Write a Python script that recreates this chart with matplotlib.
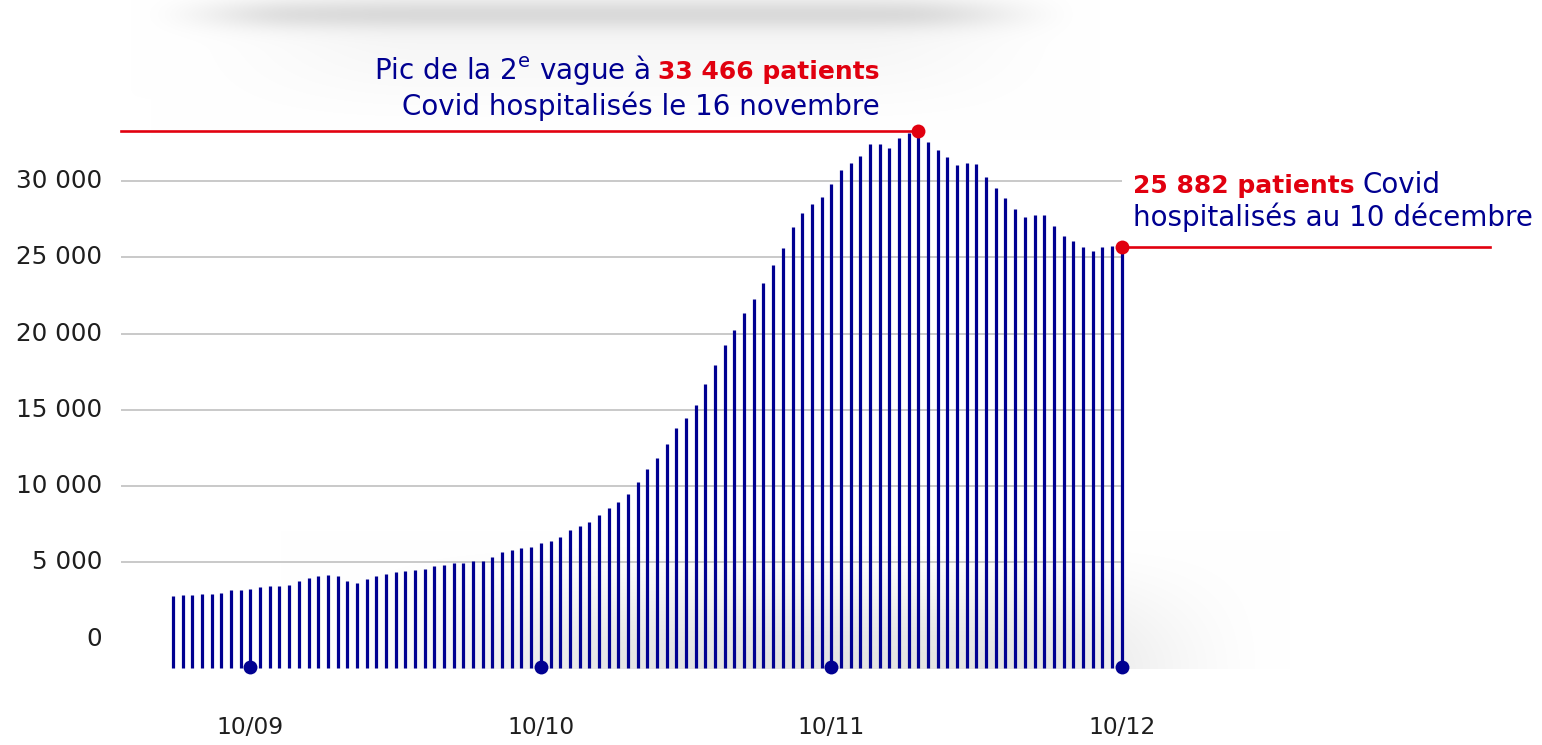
import numpy as np
import matplotlib
matplotlib.use("Agg")
import matplotlib.pyplot as plt

# ---------------- data ----------------
hospitalised = [
    2815, 2858, 2858, 2924, 2924, 2968, 3165, 3186, 3252, 3361,
    3427, 3470, 3536, 3776, 3951, 4126, 4170, 4126, 3798, 3645,
    3907, 4104, 4235, 4345, 4432, 4497, 4563, 4760, 4847, 4935,
    4978, 5109, 5109, 5350, 5656, 5787, 5918, 6027, 6268, 6399,
    6661, 7142, 7382, 7666, 8103, 8562, 8955, 9458, 10288, 11119,
    11862, 12780, 13785, 14440, 15300, 16686, 17935, 19249, 20256, 21314,
    22234, 23285, 24468, 25635, 26993, 27920, 28480, 28927, 29825, 30746,
    31163, 31625, 32415, 32415, 32193, 32810, 33170, 33300, 32546, 32040,
    31580, 31053, 31205, 31119, 30241, 29539, 28860, 28138, 27631, 27784,
    27740, 27082, 26401, 26098, 25677, 25414, 25657, 25723, 25650,
]
tick_positions = [8, 38, 68, 98]
tick_labels = ["10/09", "10/10", "10/11", "10/12"]
y_ticks = [0, 5000, 10000, 15000, 20000, 25000, 30000]
peak_label = "33 466 patients"
last_label = "25 882 patients"

BLUE = "#000091"
RED = "#E1000F"
GRID = "#c9c9c9"
TXT = "#1e1e1e"

plt.rcParams['font.family'] = ['DejaVu Sans']
plt.rcParams['mathtext.fontset'] = 'dejavusans'

W, H = 1542, 745
fig = plt.figure(figsize=(W / 100, H / 100), dpi=100)

# soft grey background shading
bg = fig.add_axes([0, 0, 1, 1], zorder=-5)
yy, xx = np.mgrid[0:H, 0:W].astype(float)


def smooth(e0, e1, v):
    t = np.clip((v - e0) / (e1 - e0), 0, 1)
    return t * t * (3 - 2 * t)


top = 0.11 * smooth(130, 300, xx) * (1 - smooth(900, 1090, xx)) * np.exp(-((yy - 14) / 15) ** 2)
top += 0.035 * smooth(150, 420, xx) * (1 - smooth(850, 1100, xx)) * (1 - smooth(25, 140, yy))
bot = 0.11 * smooth(280, 700, xx) * (1 - smooth(980, 1290, xx)) * smooth(530, 668, yy) * (yy <= 668)
img = 1 - np.clip(top + bot, 0, 0.2)
bg.imshow(np.dstack([img, img, img]), extent=(0, W, H, 0), aspect='auto', interpolation='bilinear')
bg.axis('off')

# main axes spanning the whole figure
ax = fig.add_axes([0, 0, 1, 1])
ax.patch.set_alpha(0)
x0_px, dx_px = 173.0, 9.68
y0_px, k_val = 638.6, 65.56


def px_x(p):
    return (p - x0_px) / dx_px


def px_y(p):
    return (y0_px - p) * k_val


ax.set_xlim(px_x(0), px_x(W))
ax.set_ylim(px_y(H), px_y(0))
ax.axis('off')

x = np.arange(len(hospitalised))
vals = np.array(hospitalised)
base = px_y(668)

# grid lines
grid_start = px_x(121)
ax.hlines([v for v in y_ticks if v > 0], grid_start, x[-1], color=GRID, lw=1.4, zorder=1)

# stems
ax.vlines(x, base, vals, color=BLUE, lw=2.3, zorder=3)

# bottom date dots
ax.plot(tick_positions, [px_y(667)] * len(tick_positions), 'o', color=BLUE, ms=10, zorder=4, mec='none')

# y tick labels
for v in y_ticks:
    ax.text(px_x(102), v, f"{v:,}".replace(",", " "), ha='right', va='center',
            fontsize=17.7, color=TXT)

# x tick labels
for p, lab in zip(tick_positions, tick_labels):
    ax.text(p, px_y(727), lab, ha='center', va='center', fontsize=16.8, color=TXT)

FS = 20
FSB = 18

# peak annotation
ipk = int(np.argmax(vals))
ax.plot([grid_start, x[ipk]], [vals[ipk], vals[ipk]], color=RED, lw=1.9, zorder=5)
ax.plot(x[ipk], vals[ipk], 'o', color=RED, ms=10, mec='none', zorder=6)

t1 = ax.text(px_x(880), px_y(79), peak_label, ha='right', va='baseline',
             color=RED, fontsize=FSB, fontweight='bold')
ax.annotate(r"Pic de la 2$^{\mathrm{e}}$ vague à", xy=(0, px_y(79)), xycoords=(t1, 'data'),
            xytext=(-6, 0), textcoords='offset points', ha='right', va='baseline',
            color=BLUE, fontsize=FS)
ax.text(px_x(880), px_y(115), "Covid hospitalisés le 16 novembre", ha='right',
        va='baseline', color=BLUE, fontsize=FS)

# last value annotation
il = len(vals) - 1
ax.plot([x[il], px_x(1490)], [vals[il], vals[il]], color=RED, lw=1.9, zorder=5)
ax.plot(x[il], vals[il], 'o', color=RED, ms=10, mec='none', zorder=6)
t2 = ax.text(px_x(1133), px_y(193.5), last_label, ha='left', va='baseline',
             color=RED, fontsize=FSB, fontweight='bold')
ax.annotate("Covid", xy=(1, px_y(193.5)), xycoords=(t2, 'data'), xytext=(6, 0),
            textcoords='offset points', ha='left', va='baseline', color=BLUE, fontsize=FS)
ax.text(px_x(1133), px_y(226), "hospitalisés au 10 décembre", ha='left',
        va='baseline', color=BLUE, fontsize=FS)

fig.savefig("out.png", dpi=100)
